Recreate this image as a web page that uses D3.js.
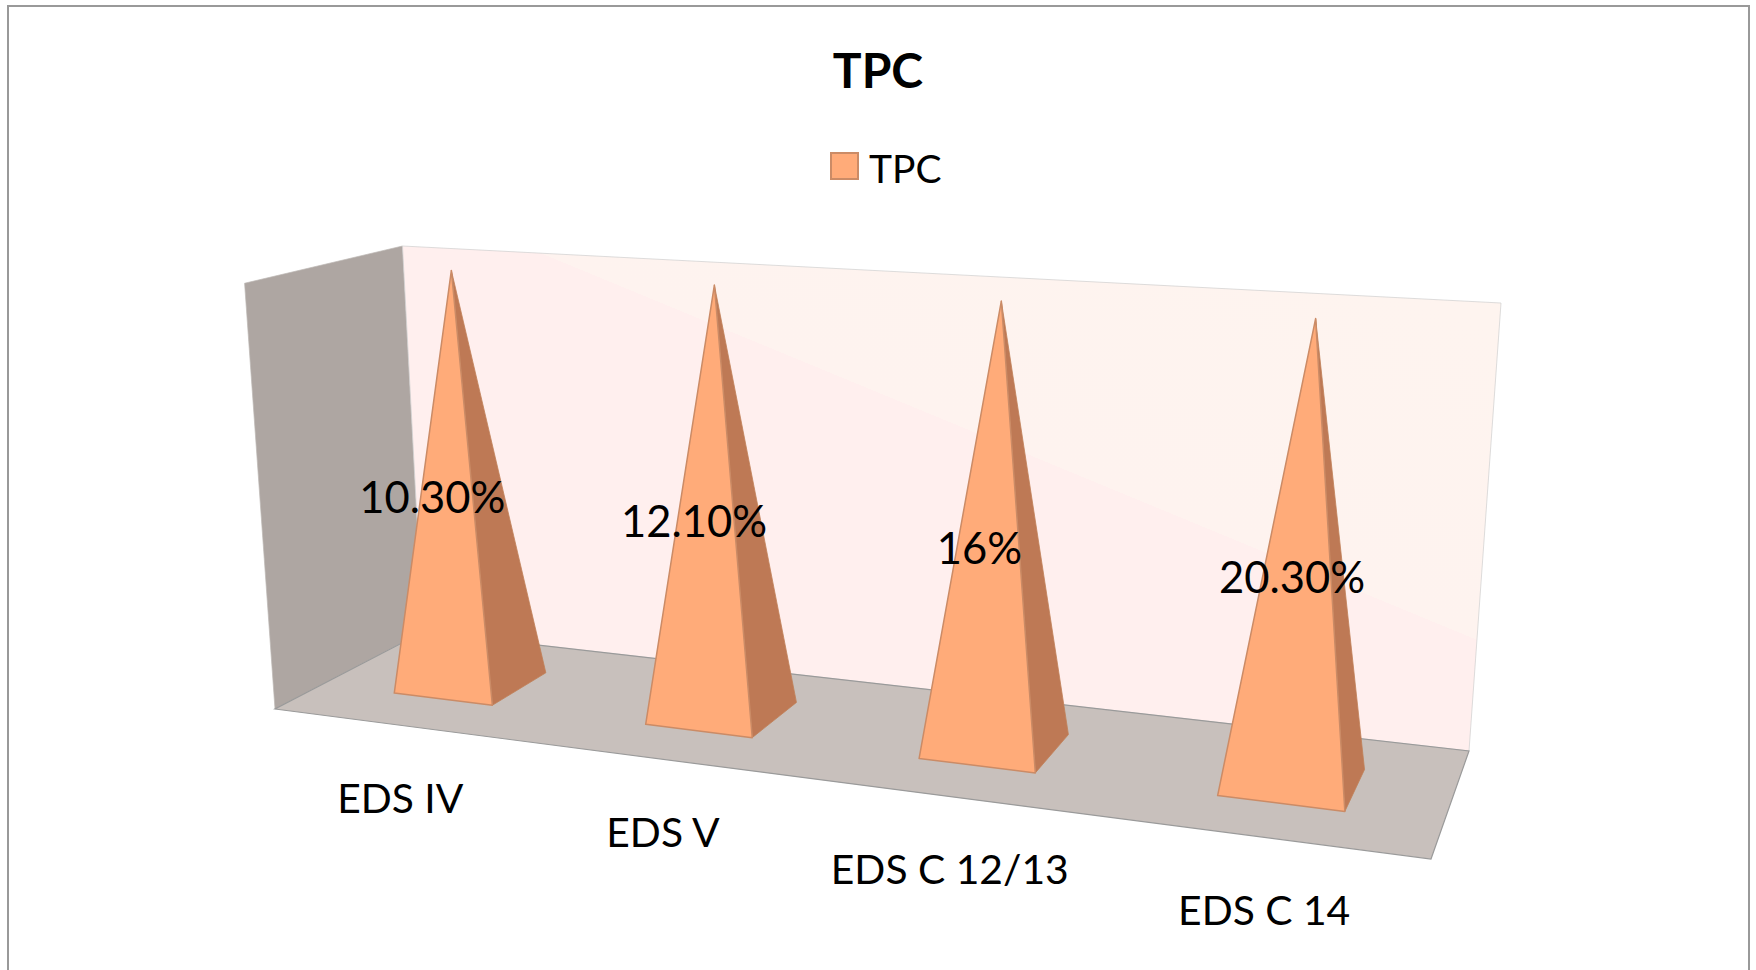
<!DOCTYPE html>
<html>
<head>
<meta charset="utf-8">
<script src="https://cdn.jsdelivr.net/npm/d3@7"></script>
<style>
  body { margin: 0; background: #fff; }
  text { font-family: Lato, sans-serif; fill: #000; }
</style>
</head>
<body>
<script>
var svgWidth = 1756;
var svgHeight = 970;

var categories = ["EDS IV", "EDS V", "EDS C 12/13", "EDS C 14"];
var tpcValues = [10.3, 12.1, 16, 20.3];
var valueLabels = ["10.30%", "12.10%", "16%", "20.30%"];
var seriesName = "TPC";

// corners of the 3D plot box, in screen pixels
var floorFrontLeft = [275, 709];
var floorFrontRight = [1431, 859];
var floorBackRight = [1469, 751];
var floorBackLeft = [423, 632];
var topBackLeft = [402.5, 246];
var topBackRight = [1501, 303];

// floor plane: (u, v) in 0..1 to screen, u along categories, v front to back
function floorHomography(p00, p10, p11, p01) {
    var dx1 = p10[0] - p11[0], dx2 = p01[0] - p11[0], sx = p00[0] - p10[0] + p11[0] - p01[0];
    var dy1 = p10[1] - p11[1], dy2 = p01[1] - p11[1], sy = p00[1] - p10[1] + p11[1] - p01[1];
    var den = dx1 * dy2 - dx2 * dy1;
    var g = (sx * dy2 - dx2 * sy) / den;
    var h = (dx1 * sy - sx * dy1) / den;
    return {
        a: p10[0] - p00[0] + g * p10[0], b: p01[0] - p00[0] + h * p01[0], c: p00[0],
        d: p10[1] - p00[1] + g * p10[1], e: p01[1] - p00[1] + h * p01[1], f: p00[1],
        g: g, h: h
    };
}

var H = floorHomography(floorFrontLeft, floorFrontRight, floorBackRight, floorBackLeft);

function floorPoint(u, v) {
    return [H.a * u + H.b * v + H.c, H.d * u + H.e * v + H.f, H.g * u + H.h * v + 1];
}

// rise of the vertical axis, fitted per screen axis to the two back wall tops
var hL = floorPoint(0, 1);
var hR = floorPoint(1, 1);

function fitRise(axis) {
    var l = topBackLeft[axis] * hL[2] - hL[axis];
    var r = topBackRight[axis] * hR[2] - hR[axis];
    var z = (r - l) / (topBackLeft[axis] - topBackRight[axis]);
    return { amount: topBackLeft[axis] * (hL[2] + z) - hL[axis], z: z };
}

var riseX = fitRise(0);
var riseY = fitRise(1);

function project(u, v, w) {
    var p = floorPoint(u, v);
    return [
        (p[0] + w * riseX.amount) / (p[2] + w * riseX.z),
        (p[1] + w * riseY.amount) / (p[2] + w * riseY.z)
    ];
}

var svg = d3.select("body")
    .append("svg")
    .attr("width", svgWidth)
    .attr("height", svgHeight)
    .style("display", "block");

var defs = svg.append("defs");
var wallGrad = defs.append("linearGradient")
    .attr("id", "wallGrad")
    .attr("gradientUnits", "userSpaceOnUse")
    .attr("x1", 550 + 0.38 * 300).attr("y1", 257 - 0.92 * 300)
    .attr("x2", 550 - 0.38 * 300).attr("y2", 257 + 0.92 * 300);
wallGrad.append("stop").attr("offset", "0").attr("stop-color", "#fef4ef");
wallGrad.append("stop").attr("offset", "0.5").attr("stop-color", "#fef3ef");
wallGrad.append("stop").attr("offset", "0.5").attr("stop-color", "#ffefee");
wallGrad.append("stop").attr("offset", "1").attr("stop-color", "#ffefee");

// chart area border, the bottom edge runs off the page
svg.append("rect")
    .attr("x", 8).attr("y", 6)
    .attr("width", 1741).attr("height", 1000)
    .attr("fill", "#fff")
    .attr("stroke", "#999")
    .attr("stroke-width", 2);

svg.append("text")
    .attr("x", 878).attr("y", 88)
    .attr("text-anchor", "middle")
    .style("font-size", "48px")
    .style("font-weight", 700)
    .text(seriesName);

svg.append("rect")
    .attr("x", 831).attr("y", 153)
    .attr("width", 27).attr("height", 26)
    .attr("fill", "#ffab79")
    .attr("stroke", "#cb8b66")
    .attr("stroke-width", 2);

svg.append("text")
    .attr("x", 869).attr("y", 183)
    .style("font-size", "39px")
    .text(seriesName);

var wallLine = d3.line();

// scales on the box axes
var xScale = d3.scaleBand()
    .domain(categories)
    .range([0, 1])
    .paddingInner(0.6)
    .paddingOuter(0.3);

var depthBar = { front: 0.3, back: 0.7 };

var yScale = d3.scaleLinear()
    .domain([0, 100])
    .range([0, 1]);

// 100% stacked with one series, so every pyramid is full height
var shares = tpcValues.map(function(d) {
    return d / d * 100;
});

// left wall
svg.append("path")
    .attr("d", wallLine([project(0, 0, 0), project(0, 1, 0), project(0, 1, 1), project(0, 0, 1)]) + "Z")
    .attr("fill", "#aea6a2")
    .attr("stroke", "#bdb7b4")
    .attr("stroke-width", 0.7);

// back wall
svg.append("path")
    .attr("d", wallLine([project(0, 1, 0), project(1, 1, 0), project(1, 1, 1), project(0, 1, 1)]) + "Z")
    .attr("fill", "url(#wallGrad)")
    .attr("stroke", "#cfcfcf")
    .attr("stroke-width", 0.7);

// floor
svg.append("path")
    .attr("d", wallLine([project(0, 0, 0), project(1, 0, 0), project(1, 1, 0), project(0, 1, 0)]) + "Z")
    .attr("fill", "#c8c0bc")
    .attr("stroke", "#9a9a9a")
    .attr("stroke-width", 1.2);

var pyramids = svg.selectAll(".pyramid")
    .data(categories)
    .enter()
    .append("g")
    .attr("class", "pyramid");

function apex(d, i) {
    var u = xScale(d) + xScale.bandwidth() / 2;
    return project(u, (depthBar.front + depthBar.back) / 2, yScale(shares[i]));
}

// right face
pyramids.append("path")
    .attr("d", function(d, i) {
        var right = xScale(d) + xScale.bandwidth();
        return wallLine([project(right, depthBar.front, 0), project(right, depthBar.back, 0), apex(d, i)]) + "Z";
    })
    .attr("fill", "#be7955")
    .attr("stroke", "#c08058")
    .attr("stroke-width", 0.8);

// front face
pyramids.append("path")
    .attr("d", function(d, i) {
        var left = xScale(d);
        var right = left + xScale.bandwidth();
        return wallLine([project(left, depthBar.front, 0), project(right, depthBar.front, 0), apex(d, i)]) + "Z";
    })
    .attr("fill", "#ffab79")
    .attr("stroke", "#cb8b66")
    .attr("stroke-width", 1.5)
    .attr("stroke-linejoin", "round");

// data labels sit at half height on the front of the bar
svg.selectAll(".value-label")
    .data(valueLabels)
    .enter()
    .append("text")
    .attr("class", "value-label")
    .attr("text-anchor", "middle")
    .attr("x", function(d, i) {
        return project(xScale(categories[i]) + xScale.bandwidth() / 2, depthBar.front, 0.5)[0];
    })
    .attr("y", function(d, i) {
        return project(xScale(categories[i]) + xScale.bandwidth() / 2, depthBar.front, 0.5)[1] + 15;
    })
    .style("font-size", "43.5px")
    .text(function(d) { return d; });

// category labels below the front edge of the floor
svg.selectAll(".cat-label")
    .data(categories)
    .enter()
    .append("text")
    .attr("class", "cat-label")
    .attr("text-anchor", "middle")
    .attr("x", function(d) {
        return project(xScale(d) + xScale.bandwidth() / 2, 0, 0)[0] + 2;
    })
    .attr("y", function(d) {
        return project(xScale(d) + xScale.bandwidth() / 2, 0, 0)[1] + 88;
    })
    .style("font-size", "40.8px")
    .text(function(d) { return d; });
</script>
</body>
</html>
